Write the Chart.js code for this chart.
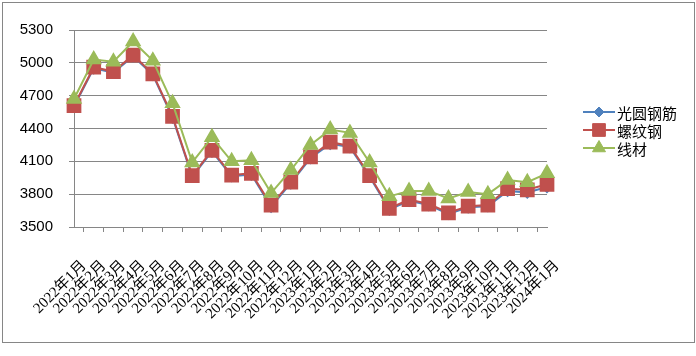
<!DOCTYPE html>
<html><head><meta charset="utf-8">
<script src="https://cdn.jsdelivr.net/npm/chart.js@4/dist/chart.umd.min.js"></script>
<style>html,body{margin:0;padding:0;background:#fff;}#wrap{position:relative;width:696px;height:356px;}</style>
</head><body><div id="wrap"><canvas id="c" width="696" height="356"></canvas></div>
<script>
const categories = ['2022年1月','2022年2月','2022年3月','2022年4月','2022年5月','2022年6月','2022年7月','2022年8月','2022年9月','2022年10月','2022年11月','2022年12月','2023年1月','2023年2月','2023年3月','2023年4月','2023年5月','2023年6月','2023年7月','2023年8月','2023年9月','2023年10月','2023年11月','2023年12月','2024年1月'];
const seriesNames = ['光圆钢筋','螺纹钢','线材'];
const roundBar = [4600,4950,4910,5060,4890,4500,3960,4190,3965,3980,3685,3900,4130,4260,4230,3960,3660,3740,3700,3620,3680,3690,3830,3815,3865];
const rebar    = [4610,4960,4920,5070,4900,4510,3970,4200,3975,3990,3700,3910,4140,4275,4240,3970,3670,3750,3710,3630,3690,3700,3850,3840,3890];
const wireRod  = [4670,5030,5010,5195,5020,4630,4090,4320,4100,4110,3810,4020,4250,4390,4360,4090,3780,3830,3830,3760,3820,3800,3930,3910,3990];
const yTicks = {min:3500, max:5300, step:300};

const colors = ['#4F81BD','#C0504D','#9BBB59'];

function drawMarker(ctx, style, x, y, r, color){
  ctx.save();
  ctx.fillStyle = color; ctx.strokeStyle = color; ctx.lineWidth = 1;
  ctx.beginPath();
  if (style === 'rectRot') {
    ctx.moveTo(x, y - r); ctx.lineTo(x + r, y); ctx.lineTo(x, y + r); ctx.lineTo(x - r, y);
  } else if (style === 'rect') {
    const s = r * Math.SQRT1_2;
    ctx.rect(x - s, y - s, 2 * s, 2 * s);
  } else {
    const h = r * Math.sqrt(3) / 2;
    ctx.moveTo(x, y - r); ctx.lineTo(x + h, y + r / 2); ctx.lineTo(x - h, y + r / 2);
  }
  ctx.closePath(); ctx.fill(); ctx.stroke();
  ctx.restore();
}

const frameAndLegend = {
  id: 'frameAndLegend',
  beforeDraw(chart){
    const ctx = chart.ctx;
    ctx.save();
    ctx.fillStyle = '#fff'; ctx.fillRect(0,0,chart.width,chart.height);
    ctx.strokeStyle = '#868686'; ctx.lineWidth = 1;
    ctx.strokeRect(2.5, 2.5, 692, 340);
    ctx.restore();
  },
  afterDraw(chart){
    const ctx = chart.ctx;
    const ys = [112, 130, 148];
    chart.data.datasets.forEach((ds, i) => {
      const y = ys[i];
      ctx.save();
      ctx.strokeStyle = ds.borderColor; ctx.lineWidth = 2;
      ctx.beginPath(); ctx.moveTo(583, y); ctx.lineTo(615, y); ctx.stroke();
      ctx.restore();
      drawMarker(ctx, ds.pointStyle, 599, y, ds.pointRadius, ds.borderColor);
      ctx.save();
      ctx.fillStyle = '#000';
      ctx.font = '15px "Noto Sans CJK SC"';
      ctx.textBaseline = 'middle'; ctx.textAlign = 'left';
      ctx.fillText(ds.label, 617, y + 1);
      ctx.restore();
    });
  }
};

new Chart(document.getElementById('c'), {
  type: 'line',
  data: {
    labels: categories,
    datasets: [
      {label: seriesNames[0], data: roundBar, borderColor: colors[0], backgroundColor: colors[0], pointStyle: 'rectRot', pointRadius: 5, borderWidth: 2, order: 2, tension: 0},
      {label: seriesNames[1], data: rebar, borderColor: colors[1], backgroundColor: colors[1], pointStyle: 'rect', pointRadius: 9, borderWidth: 2, order: 1, tension: 0},
      {label: seriesNames[2], data: wireRod, borderColor: colors[2], backgroundColor: colors[2], pointStyle: 'triangle', pointRadius: 7.5, borderWidth: 2, order: 0, tension: 0}
    ]
  },
  options: {
    responsive: false,
    animation: false,
    devicePixelRatio: 1,
    layout: {padding: {left: 0, top: 30, right: 149, bottom: 0}},
    plugins: {legend: {display: false}, tooltip: {enabled: false}},
    scales: {
      x: {
        type: 'category',
        afterFit(s){ s.height = 129; },
        grid: {display: true, drawOnChartArea: false, drawTicks: true, tickLength: 5, offset: true, color: '#868686'},
        border: {color: '#868686', width: 1},
        ticks: {autoSkip: false, maxRotation: 45, minRotation: 45, labelOffset: 10, padding: 25, color: '#000',
                font: {family: '"Liberation Serif", "Noto Sans CJK SC"', size: 15}}
      },
      y: {
        min: yTicks.min, max: yTicks.max,
        afterFit(s){ s.width = 74; },
        grid: {color: '#868686', tickLength: 5, drawTicks: true},
        border: {color: '#868686', width: 1},
        ticks: {stepSize: yTicks.step, padding: 16, color: '#000', font: {family: '"Liberation Sans"', size: 15},
                callback: (v) => String(v)}
      }
    }
  },
  plugins: [frameAndLegend]
});
</script></body></html>
